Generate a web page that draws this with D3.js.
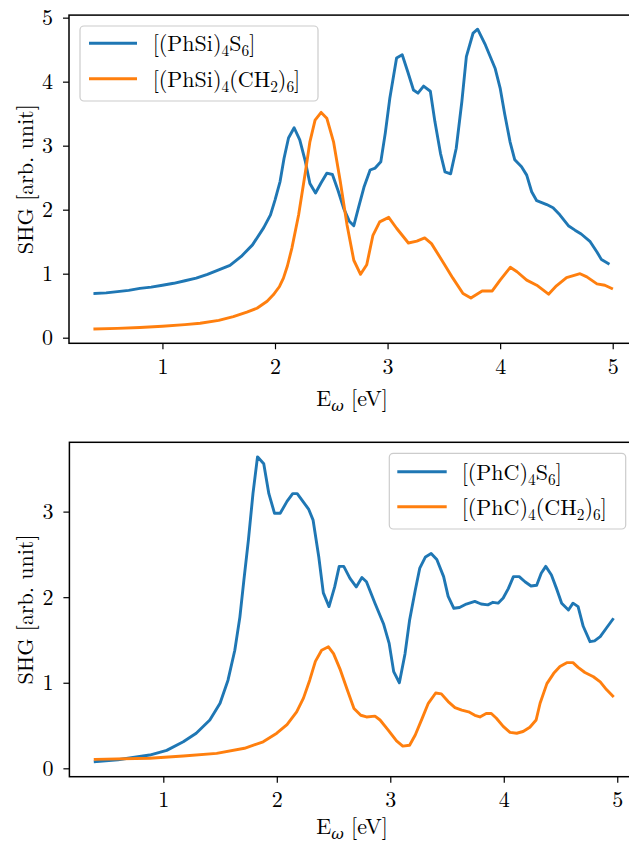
<!DOCTYPE html>
<html>
<head>
<meta charset="utf-8">
<script src="https://cdn.jsdelivr.net/npm/d3@7"></script>
<style>
  html, body { margin: 0; padding: 0; background: #fff; }
  svg { display: block; }
  text { font-family: "Latin Modern Roman", "CMU Serif", "DejaVu Serif", serif; fill: #000; }
</style>
</head>
<body>
<svg id="chart" width="629" height="841"></svg>
<script>
// ---------- Data ----------
// Top panel: [(PhSi)4S6] (blue)
const topBlueE = [0.4,0.5,0.6,0.7,0.8,0.9,1.0,1.1,1.2,1.3,1.4,1.5,1.6,1.7,1.8,1.9,1.96,2.0,2.045,2.08,2.12,2.17,2.22,2.27,2.31,2.36,2.41,2.46,2.51,2.56,2.61,2.66,2.70,2.74,2.79,2.845,2.89,2.94,2.98,3.02,3.08,3.13,3.18,3.23,3.27,3.32,3.38,3.42,3.47,3.51,3.56,3.61,3.66,3.70,3.76,3.80,3.87,3.955,4.0,4.04,4.088,4.13,4.19,4.236,4.28,4.325,4.414,4.47,4.53,4.606,4.665,4.72,4.80,4.86,4.90,4.96];
const topBlueV = [0.69,0.70,0.72,0.74,0.77,0.79,0.82,0.85,0.89,0.93,0.99,1.06,1.13,1.27,1.45,1.72,1.92,2.15,2.44,2.80,3.12,3.28,3.09,2.75,2.41,2.26,2.42,2.57,2.55,2.30,2.02,1.82,1.75,2.02,2.35,2.62,2.65,2.75,3.20,3.74,4.37,4.42,4.15,3.87,3.82,3.93,3.85,3.38,2.88,2.59,2.56,2.96,3.69,4.39,4.76,4.82,4.57,4.21,3.90,3.50,3.06,2.78,2.67,2.54,2.28,2.14,2.08,2.03,1.92,1.75,1.68,1.62,1.50,1.34,1.22,1.16];
// Top panel: [(PhSi)4(CH2)6] (orange)
const topOrangeE = [0.4,0.6,0.8,1.0,1.2,1.335,1.5,1.63,1.75,1.84,1.93,1.985,2.04,2.075,2.11,2.15,2.21,2.27,2.31,2.356,2.41,2.46,2.52,2.58,2.64,2.70,2.76,2.815,2.87,2.93,3.01,3.08,3.185,3.26,3.33,3.39,3.50,3.58,3.67,3.74,3.84,3.93,4.0,4.09,4.15,4.236,4.325,4.43,4.50,4.59,4.71,4.77,4.86,4.93,4.99];
const topOrangeV = [0.136,0.145,0.16,0.18,0.205,0.225,0.27,0.33,0.40,0.46,0.57,0.67,0.80,0.93,1.12,1.40,1.92,2.59,3.06,3.40,3.52,3.43,3.06,2.44,1.76,1.21,0.99,1.14,1.60,1.81,1.88,1.71,1.48,1.51,1.56,1.47,1.16,0.93,0.69,0.62,0.73,0.73,0.90,1.10,1.03,0.90,0.82,0.68,0.81,0.94,1.00,0.95,0.84,0.82,0.77];
// Bottom panel: [(PhC)4S6] (blue)
const botBlueE = [0.4,0.6,0.88,1.03,1.176,1.29,1.41,1.50,1.57,1.63,1.675,1.71,1.75,1.79,1.83,1.885,1.93,1.98,2.03,2.09,2.14,2.18,2.23,2.28,2.32,2.37,2.41,2.46,2.51,2.55,2.59,2.645,2.70,2.75,2.79,2.865,2.94,2.99,3.03,3.08,3.13,3.17,3.22,3.26,3.31,3.36,3.41,3.47,3.51,3.56,3.61,3.67,3.745,3.80,3.86,3.905,3.95,3.995,4.04,4.085,4.136,4.187,4.24,4.29,4.33,4.37,4.42,4.465,4.51,4.57,4.61,4.655,4.70,4.76,4.80,4.85,4.905,4.96];
const botBlueV = [0.077,0.10,0.155,0.21,0.31,0.41,0.565,0.76,1.03,1.38,1.77,2.20,2.67,3.21,3.64,3.56,3.21,2.98,2.98,3.12,3.21,3.21,3.12,3.03,2.90,2.47,2.05,1.89,2.12,2.36,2.36,2.22,2.12,2.23,2.18,1.93,1.69,1.46,1.13,1.00,1.34,1.73,2.08,2.34,2.47,2.51,2.44,2.24,2.01,1.87,1.88,1.92,1.95,1.92,1.91,1.94,1.93,1.99,2.10,2.24,2.24,2.18,2.13,2.14,2.28,2.36,2.26,2.10,1.93,1.85,1.93,1.89,1.66,1.48,1.49,1.54,1.64,1.74];
// Bottom panel: [(PhC)4(CH2)6] (orange)
const botOrangeE = [0.4,0.88,1.176,1.47,1.715,1.88,2.0,2.09,2.175,2.235,2.29,2.34,2.395,2.455,2.50,2.56,2.62,2.68,2.74,2.79,2.865,2.91,2.98,3.055,3.11,3.17,3.22,3.28,3.335,3.40,3.45,3.51,3.57,3.63,3.69,3.745,3.79,3.845,3.89,3.935,3.995,4.055,4.114,4.17,4.23,4.285,4.32,4.38,4.44,4.495,4.555,4.61,4.655,4.715,4.79,4.85,4.905,4.96];
const botOrangeV = [0.105,0.117,0.144,0.175,0.234,0.31,0.41,0.51,0.66,0.82,1.03,1.25,1.38,1.42,1.34,1.15,0.92,0.70,0.62,0.60,0.61,0.565,0.45,0.32,0.26,0.27,0.39,0.58,0.76,0.88,0.87,0.78,0.71,0.68,0.66,0.62,0.60,0.64,0.64,0.585,0.49,0.42,0.41,0.43,0.48,0.565,0.76,0.99,1.11,1.19,1.235,1.235,1.18,1.12,1.07,1.01,0.92,0.845];

const xTicks = [1, 2, 3, 4, 5];
const yTicksTop = [0, 1, 2, 3, 4, 5];
const yTicksBot = [0, 1, 2, 3];
const legendTop = [["[(PhSi)", "4", "S", "6", "]"], ["[(PhSi)", "4", "(CH", "2", ")", "6", "]"]];
const legendBot = [["[(PhC)", "4", "S", "6", "]"], ["[(PhC)", "4", "(CH", "2", ")", "6", "]"]];
const yLabel = "SHG [arb. unit]";
const colors = ["#1f77b4", "#ff7f0e"];

// ---------- Drawing ----------
const svg = d3.select("#chart");
const FS = 22;

function richText(sel, parts) {
  // alternate: normal, sub, normal, sub ...
  parts.forEach((p, i) => {
    const isSub = i % 2 === 1;
    sel.append("tspan")
      .attr("font-size", isSub ? FS * 0.7 : FS)
      .attr("dy", isSub ? 5 : (i === 0 ? 0 : -5))
      .text(p);
  });
}

function panel(cfg) {
  const x = d3.scaleLinear().domain(cfg.xDom).range([cfg.left, cfg.right]);
  const y = d3.scaleLinear().domain(cfg.yDom).range([cfg.bottom, cfg.top]);
  const g = svg.append("g");

  const line = d3.line().x(d => x(d[0])).y(d => y(d[1]));
  cfg.series.forEach((s, i) => {
    const pts = s.E.map((e, k) => [e, s.V[k]]);
    g.append("path").attr("d", line(pts))
      .attr("fill", "none").attr("stroke", colors[i])
      .attr("stroke-width", 2.9).attr("stroke-linejoin", "round").attr("stroke-linecap", "square");
  });

  // axes
  const xa = g.append("g").attr("transform", `translate(0,${cfg.bottom})`)
    .call(d3.axisBottom(x).tickValues(xTicks).tickFormat(d3.format("d")).tickSize(6).tickPadding(9));
  const ya = g.append("g").attr("transform", `translate(${cfg.left},0)`)
    .call(d3.axisLeft(y).tickValues(cfg.yTicks).tickFormat(d3.format("d")).tickSize(6).tickPadding(10));
  [xa, ya].forEach(a => {
    a.attr("font-family", null);
    a.select(".domain").remove();
    a.selectAll(".tick line").attr("stroke", "#000").attr("stroke-width", 1.2);
    a.selectAll(".tick text").attr("font-size", FS);
  });
  // spines
  g.append("rect").attr("x", cfg.left).attr("y", cfg.top)
    .attr("width", cfg.right - cfg.left).attr("height", cfg.bottom - cfg.top)
    .attr("fill", "none").attr("stroke", "#000").attr("stroke-width", 1.5);

  // axis labels
  const xl = g.append("text").attr("x", 352).attr("y", cfg.bottom + cfg.xLabelOff)
    .attr("text-anchor", "middle").attr("font-size", FS);
  xl.append("tspan").text("E");
  xl.append("tspan").attr("font-size", FS * 0.7).attr("font-style", "italic").attr("dy", 5).text("ω");
  xl.append("tspan").attr("dy", -5).text("  [eV]");

  g.append("text").attr("transform", `translate(23,${(cfg.top + cfg.bottom) / 2}) rotate(-90)`)
    .attr("text-anchor", "middle").attr("dominant-baseline", "central")
    .attr("font-size", FS).text(yLabel);

  // legend
  const L = cfg.legend;
  g.append("rect").attr("x", L.x).attr("y", L.y).attr("width", L.w).attr("height", L.h)
    .attr("rx", 4).attr("fill", "#fff").attr("fill-opacity", 0.8)
    .attr("stroke", "#cccccc").attr("stroke-width", 1.2);
  L.labels.forEach((parts, i) => {
    const ry = L.rows[i];
    g.append("line").attr("x1", L.lx1).attr("x2", L.lx2).attr("y1", ry).attr("y2", ry)
      .attr("stroke", colors[i]).attr("stroke-width", 2.9);
    const t = g.append("text").attr("x", L.tx).attr("y", ry + 8).attr("font-size", FS);
    richText(t, parts);
  });
}

panel({
  left: 69, right: 638.6, top: 15.1, bottom: 343.3, xLabelOff: 63,
  xDom: [0.17, 5.23], yDom: [-0.0875, 5.04], yTicks: yTicksTop,
  series: [{E: topBlueE, V: topBlueV}, {E: topOrangeE, V: topOrangeV}],
  legend: {x: 80, y: 26, w: 238, h: 75, lx1: 89, lx2: 137, tx: 152.7, rows: [43.3, 78.7], labels: legendTop}
});
panel({
  left: 69.4, right: 637.4, top: 442.3, bottom: 776.7, xLabelOff: 57,
  xDom: [0.1725, 5.1775], yDom: [-0.098, 3.81], yTicks: yTicksBot,
  series: [{E: botBlueE, V: botBlueV}, {E: botOrangeE, V: botOrangeV}],
  legend: {x: 389.3, y: 453.3, w: 236.4, h: 75.7, lx1: 397.3, lx2: 446.7, tx: 461.7, rows: [471.7, 506.7], labels: legendBot}
});
</script>
</body>
</html>
